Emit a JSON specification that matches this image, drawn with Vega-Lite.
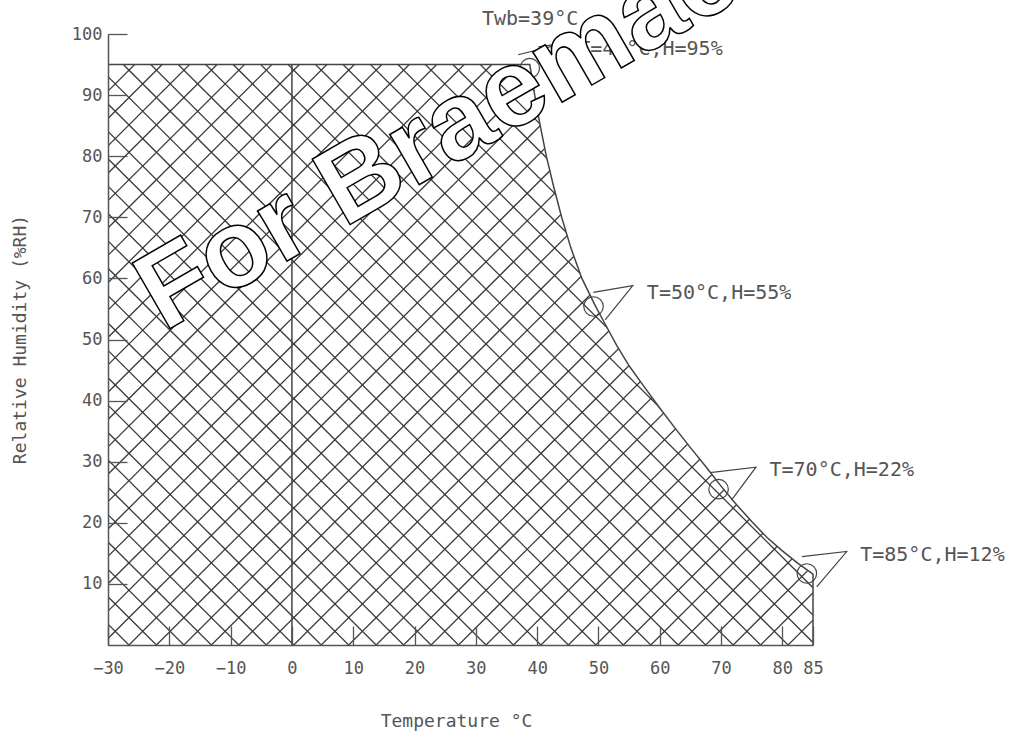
{
  "$schema": "https://vega.github.io/schema/vega-lite/v6.json",
  "width": 705,
  "height": 611,
  "autosize": {"type": "none"},
  "padding": {"left": 108, "top": 34, "right": 198, "bottom": 92},
  "background": "white",
  "config": {"view": {"stroke": null}},
  "datasets": {
    "hatch": [
      {"a":95.14,"b":210.14},{"a":90.66,"b":205.66},{"a":86.18,"b":201.18},{"a":81.70,"b":196.70},{"a":77.22,"b":192.22},
      {"a":72.74,"b":187.74},{"a":68.26,"b":183.26},{"a":63.78,"b":178.78},{"a":59.30,"b":174.30},{"a":54.82,"b":169.82},
      {"a":50.34,"b":165.34},{"a":45.86,"b":160.86},{"a":41.38,"b":156.38},{"a":36.90,"b":151.90},{"a":32.42,"b":147.42},
      {"a":27.94,"b":142.94},{"a":23.46,"b":138.46},{"a":18.98,"b":133.98},{"a":14.50,"b":129.50},{"a":10.02,"b":125.02},
      {"a":5.54,"b":120.54},{"a":1.06,"b":116.06},{"a":-3.42,"b":111.58},{"a":-7.90,"b":107.10},{"a":-12.38,"b":102.62},
      {"a":-16.86,"b":98.14},{"a":-21.34,"b":93.66},{"a":-25.82,"b":89.18},{"a":-30.30,"b":84.70},{"a":-34.78,"b":80.22},
      {"a":-39.26,"b":75.74},{"a":-43.74,"b":71.26},{"a":-48.22,"b":66.78},{"a":-52.70,"b":62.30},{"a":-57.18,"b":57.82},
      {"a":-61.66,"b":53.34},{"a":-66.14,"b":48.86},{"a":-70.62,"b":44.38},{"a":-75.10,"b":39.90},{"a":-79.58,"b":35.42},
      {"a":-84.06,"b":30.94},{"a":-88.54,"b":26.46},{"a":-93.02,"b":21.98},{"a":-97.50,"b":17.50},{"a":-101.98,"b":13.02},
      {"a":-106.46,"b":8.54},{"a":-110.94,"b":4.06},
      {"a":3.42,"b":-111.58},{"a":7.90,"b":-107.10},{"a":12.38,"b":-102.62},{"a":16.86,"b":-98.14},{"a":21.34,"b":-93.66},
      {"a":25.82,"b":-89.18},{"a":30.30,"b":-84.70},{"a":34.78,"b":-80.22},{"a":39.26,"b":-75.74},{"a":43.74,"b":-71.26},
      {"a":48.22,"b":-66.78},{"a":52.70,"b":-62.30},{"a":57.18,"b":-57.82},{"a":61.66,"b":-53.34},{"a":66.14,"b":-48.86},
      {"a":70.62,"b":-44.38},{"a":75.10,"b":-39.90},{"a":79.58,"b":-35.42},{"a":84.06,"b":-30.94},{"a":88.54,"b":-26.46},
      {"a":93.02,"b":-21.98},{"a":97.50,"b":-17.50},{"a":101.98,"b":-13.02},{"a":106.46,"b":-8.54},{"a":110.94,"b":-4.06},
      {"a":115.42,"b":0.42},{"a":119.90,"b":4.90},{"a":124.38,"b":9.38},{"a":128.86,"b":13.86},{"a":133.34,"b":18.34},
      {"a":137.82,"b":22.82},{"a":142.30,"b":27.30},{"a":146.78,"b":31.78},{"a":151.26,"b":36.26},{"a":155.74,"b":40.74},
      {"a":160.22,"b":45.22},{"a":164.70,"b":49.70},{"a":169.18,"b":54.18},{"a":173.66,"b":58.66},{"a":178.14,"b":63.14},
      {"a":182.62,"b":67.62},{"a":187.10,"b":72.10},{"a":191.58,"b":76.58},{"a":196.06,"b":81.06},{"a":200.54,"b":85.54},
      {"a":205.02,"b":90.02},{"a":209.50,"b":94.50}
    ],
    "edge": [
      {"i":0,"x":-30,"y":95},{"i":1,"x":38.8,"y":95},{"i":2,"x":39.6,"y":90},{"i":3,"x":40.5,"y":85},
      {"i":4,"x":41.5,"y":80},{"i":5,"x":42.7,"y":75},{"i":6,"x":44.0,"y":70},{"i":7,"x":45.5,"y":65},
      {"i":8,"x":47.3,"y":60},{"i":9,"x":49.5,"y":55.5},{"i":10,"x":51.0,"y":52.7},{"i":11,"x":53.0,"y":49.0},
      {"i":12,"x":55.0,"y":45.7},{"i":13,"x":57.5,"y":42.2},{"i":14,"x":60,"y":38.8},{"i":15,"x":62.5,"y":35.5},
      {"i":16,"x":65,"y":32.3},{"i":17,"x":67.5,"y":29.2},{"i":18,"x":70,"y":26.0},{"i":19,"x":72.5,"y":23.0},
      {"i":20,"x":75,"y":20.2},{"i":21,"x":77.5,"y":17.6},{"i":22,"x":80,"y":15.4},{"i":23,"x":82.5,"y":13.4},
      {"i":24,"x":85,"y":11.6},{"i":25,"x":85,"y":0}
    ],
    "zero": [{"x":0,"y":0,"y2":95}],
    "callout": [
      {"g":"40","i":0,"x":36.9,"y":96.6},{"g":"40","i":1,"x":44.55,"y":98.5},{"g":"40","i":2,"x":40.2,"y":97.9},
      {"g":"50","i":0,"x":49.17,"y":57.7},{"g":"50","i":1,"x":55.6,"y":58.8},{"g":"50","i":2,"x":51.1,"y":53.2},
      {"g":"70","i":0,"x":68.2,"y":28.2},{"g":"70","i":1,"x":75.7,"y":29.1},{"g":"70","i":2,"x":71.7,"y":23.7},
      {"g":"85","i":0,"x":83.2,"y":14.45},{"g":"85","i":1,"x":90.5,"y":15.3},{"g":"85","i":2,"x":85.6,"y":9.5}
    ],
    "rings": [
      {"x":38.8,"y":94.4},{"x":49.2,"y":55.4},{"x":69.6,"y":25.5},{"x":84.0,"y":11.7}
    ],
    "notes": [
      {"x":31.0,"y":102.5,"t":"Twb=39°C"},
      {"x":46.7,"y":97.6,"t":"T=40°C,H=95%"},
      {"x":57.9,"y":57.6,"t":"T=50°C,H=55%"},
      {"x":77.9,"y":28.6,"t":"T=70°C,H=22%"},
      {"x":92.7,"y":14.7,"t":"T=85°C,H=12%"}
    ],
    "wm": [{"x":-20.9,"y":51.2,"t":"For Braemac"}]
  },
  "layer": [
    {
      "data": {"name": "hatch"},
      "mark": {"type": "rule", "clip": true, "stroke": "#3a3a3a", "strokeWidth": 1.3},
      "encoding": {
        "x": {"datum": -30, "type": "quantitative"},
        "x2": {"datum": 85},
        "y": {"field": "a", "type": "quantitative"},
        "y2": {"field": "b"}
      }
    },
    {
      "data": {"name": "edge"},
      "transform": [{"filter": "datum.i < 25"}],
      "mark": {"type": "area", "fill": "white", "clip": true},
      "encoding": {
        "x": {"field": "x", "type": "quantitative"},
        "y": {"field": "y", "type": "quantitative"},
        "y2": {"datum": 100}
      }
    },
    {
      "data": {"name": "zero"},
      "mark": {"type": "rule", "stroke": "#444", "strokeWidth": 1.5},
      "encoding": {
        "x": {"field": "x", "type": "quantitative"},
        "y": {"field": "y", "type": "quantitative"},
        "y2": {"field": "y2"}
      }
    },
    {
      "data": {"name": "edge"},
      "mark": {"type": "line", "stroke": "#444", "strokeWidth": 1.5},
      "encoding": {
        "x": {
          "field": "x", "type": "quantitative",
          "scale": {"domain": [-30, 85], "nice": false, "zero": false},
          "axis": {
            "title": "Temperature °C",
            "values": [-30, -20, -10, 0, 10, 20, 30, 40, 50, 60, 70, 80, 85],
            "format": "d",
            "grid": false, "zindex": 1,
            "domainColor": "#555", "domainWidth": 1.5,
            "tickColor": "#555", "tickWidth": 1.3, "tickSize": -19,
            "labelPadding": 34, "labelFlush": false, "labelOverlap": false, "labelBound": false,
            "labelFont": "DejaVu Sans Mono", "labelFontSize": 17, "labelColor": "#555",
            "titleFont": "DejaVu Sans Mono", "titleFontSize": 18, "titleFontWeight": "normal", "titleColor": "#555",
            "titleX": 348, "titleY": 76, "titleBaseline": "middle", "titleAlign": "center"
          }
        },
        "y": {
          "field": "y", "type": "quantitative",
          "scale": {"domain": [0, 100], "nice": false, "zero": false},
          "axis": {
            "title": "Relative Humidity (%RH)",
            "values": [10, 20, 30, 40, 50, 60, 70, 80, 90, 100],
            "format": "d",
            "grid": false, "zindex": 1,
            "domainColor": "#555", "domainWidth": 1.5,
            "tickColor": "#555", "tickWidth": 1.3, "tickSize": -19,
            "labelPadding": 25, "labelFlush": false, "labelOverlap": false, "labelBound": false,
            "labelFont": "DejaVu Sans Mono", "labelFontSize": 17, "labelColor": "#555",
            "labelBaseline": "middle",
            "titleFont": "DejaVu Sans Mono", "titleFontSize": 18, "titleFontWeight": "normal", "titleColor": "#555",
            "titleX": -88, "titleY": 305, "titleAngle": -90, "titleBaseline": "middle", "titleAlign": "center"
          }
        },
        "order": {"field": "i"}
      }
    },
    {
      "data": {"name": "callout"},
      "mark": {"type": "line", "stroke": "#444", "strokeWidth": 1.2, "clip": false},
      "encoding": {
        "x": {"field": "x", "type": "quantitative"},
        "y": {"field": "y", "type": "quantitative"},
        "detail": {"field": "g"},
        "order": {"field": "i"}
      }
    },
    {
      "data": {"name": "rings"},
      "mark": {"type": "point", "shape": "circle", "filled": false, "stroke": "#444", "strokeWidth": 1.2, "size": 380, "opacity": 1},
      "encoding": {
        "x": {"field": "x", "type": "quantitative"},
        "y": {"field": "y", "type": "quantitative"}
      }
    },
    {
      "data": {"name": "notes"},
      "mark": {"type": "text", "align": "left", "baseline": "middle", "font": "DejaVu Sans Mono", "fontSize": 20, "fill": "#555"},
      "encoding": {
        "x": {"field": "x", "type": "quantitative"},
        "y": {"field": "y", "type": "quantitative"},
        "text": {"field": "t"}
      }
    },
    {
      "data": {"name": "wm"},
      "mark": {"type": "text", "align": "left", "baseline": "alphabetic", "font": "Liberation Sans", "fontWeight": "bold", "fontSize": 110, "angle": -30, "fill": "white", "stroke": "black", "strokeWidth": 1.5},
      "encoding": {
        "x": {"field": "x", "type": "quantitative"},
        "y": {"field": "y", "type": "quantitative"},
        "text": {"field": "t"}
      }
    }
  ]
}
